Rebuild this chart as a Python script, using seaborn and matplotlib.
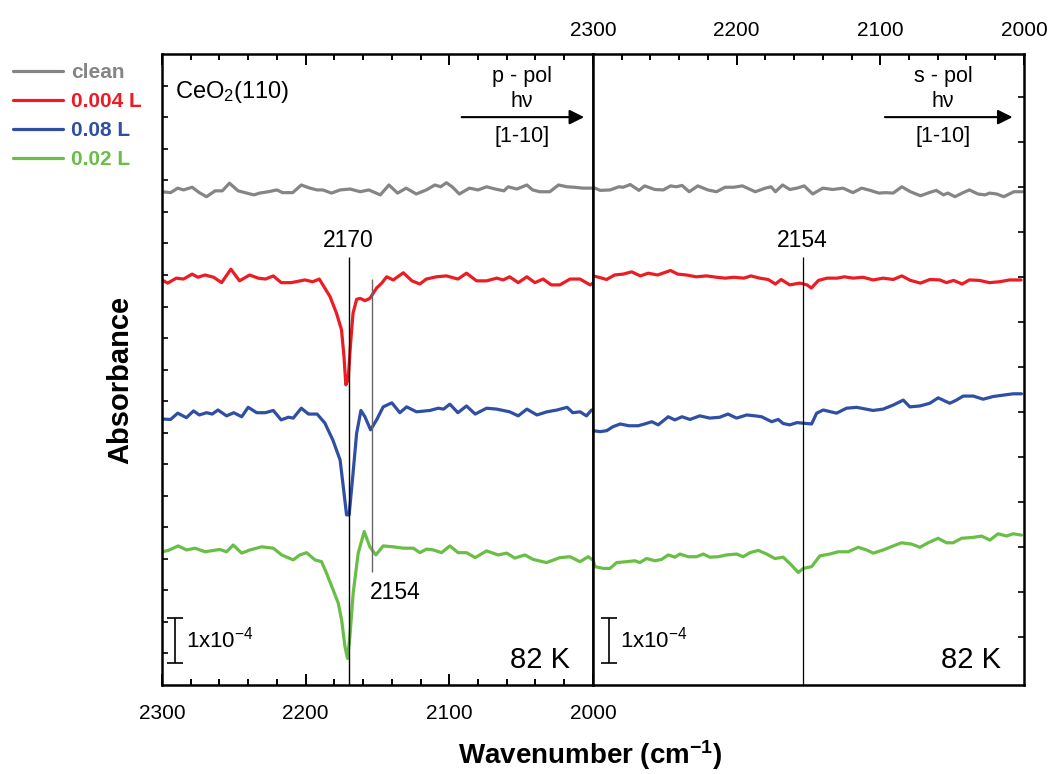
import numpy as np
import pandas as pd
import matplotlib
matplotlib.use("Agg")
import matplotlib.pyplot as plt
import seaborn as sns
from matplotlib import font_manager
from matplotlib.ticker import MultipleLocator, FixedLocator

sns.set_style("ticks")
plt.rcParams['font.family'] = ['Liberation Sans', 'DejaVu Sans']
plt.rcParams['text.color'] = 'black'
plt.rcParams['xtick.color'] = 'black'
plt.rcParams['ytick.color'] = 'black'
plt.rcParams['mathtext.fontset'] = 'custom'
plt.rcParams['mathtext.rm'] = 'Liberation Sans'
plt.rcParams['mathtext.it'] = 'Liberation Sans:italic'
plt.rcParams['mathtext.bf'] = 'Liberation Sans:bold'

names = {f.name for f in font_manager.fontManager.ttflist}
narrow = 'Liberation Sans Narrow' if 'Liberation Sans Narrow' in names else 'Liberation Sans'

# ---- data: absorbance in units of 1e-4, relative to each trace's baseline ----
labels = ["clean", "0.004 L", "0.08 L", "0.02 L"]
colors = ["#858585", "#ed1c24", "#2e4fa3", "#69be45"]
offsets = [11.0, 9.0, 6.0, 3.0]

# p-pol panel
wn_clean_p = [2300, 2294, 2289, 2285, 2279, 2274, 2269, 2263, 2258, 2253, 2247, 2241, 2236, 2232, 2226, 2220,
              2216, 2209, 2203, 2197, 2192, 2188, 2182, 2176, 2169, 2162, 2156, 2148, 2142, 2136, 2130, 2123,
              2116, 2110, 2106, 2102, 2098, 2093, 2086, 2080, 2074, 2068, 2062, 2059, 2053, 2046, 2042, 2037,
              2030, 2024, 2018, 2013, 2007, 2001]
ab_clean_p = [-0.04, -0.06, 0.04, 0, 0.06, -0.06, -0.15, -0.02, -0.02, 0.15, -0.02, -0.07, -0.11, -0.07, -0.04, 0,
              -0.06, -0.06, 0.11, 0.04, 0, 0, -0.07, 0, 0.02, -0.04, 0, -0.11, 0.11, -0.07, 0.04, -0.09,
              0, 0.11, 0.07, 0.16, 0.07, -0.09, 0.04, 0, 0.07, 0.02, -0.02, 0.07, 0.02, 0.11, 0, -0.04,
              -0.04, 0.11, 0.07, 0.06, 0.04, 0.04]

wn_004_p = [2300, 2296, 2290, 2285, 2279, 2275, 2270, 2264, 2258.5, 2252, 2246, 2239, 2233, 2228, 2222.5, 2217,
            2210, 2200.5, 2195, 2190.5, 2188, 2183, 2178.5, 2175, 2173.3, 2172, 2170.4, 2168.7, 2167, 2164.5,
            2162, 2158.7, 2155.3, 2150.6, 2147, 2143.6, 2139, 2132, 2126, 2120.5, 2116, 2109, 2102, 2094, 2088,
            2081, 2074, 2067, 2062.5, 2058, 2052, 2046, 2040.4, 2034.7, 2029, 2023, 2016, 2009, 2002, 2000]
ab_004_p = [0, -0.07, 0.04, 0.02, 0.13, 0.06, 0.11, 0.06, -0.06, 0.24, -0.02, 0.11, 0.04, 0.02, 0.09, -0.06,
            -0.06, 0, -0.04, 0.02, -0.11, -0.37, -0.74, -1.11, -1.70, -2.33, -2.22, -1.41, -0.74, -0.43,
            -0.41, -0.46, -0.41, -0.18, -0.07, 0.07, 0, 0.16, -0.02, -0.09, 0.02, 0.07, 0.09, 0.02, 0.15,
            -0.02, -0.02, 0.04, 0, 0.07, -0.06, 0.07, -0.06, 0.02, -0.11, -0.11, 0.02, 0.02, -0.11, -0.07]

wn_008_p = [2300, 2294, 2289, 2283, 2278, 2274, 2269, 2265, 2261, 2255, 2250, 2244.5, 2240, 2234, 2228, 2222.5,
            2217, 2212, 2208.6, 2203, 2198, 2192, 2186.6, 2181, 2176, 2173.8, 2171.5, 2169.7, 2167, 2164.5,
            2161.5, 2158.7, 2154.8, 2150.6, 2146, 2140, 2134.4, 2129.7, 2122.8, 2113.5, 2107.7, 2104, 2099.6,
            2094, 2088, 2082, 2074, 2067, 2058, 2052, 2046, 2039, 2032, 2025, 2018, 2014, 2009, 2004.5, 2001]
ab_008_p = [-0.09, -0.10, 0.04, -0.06, 0.09, 0, 0.05, 0.02, 0.11, -0.02, 0.05, -0.04, 0.17, 0.05, 0.05, 0.10,
            -0.11, -0.05, -0.07, 0.15, 0.02, 0.02, -0.18, -0.56, -1.0, -1.59, -2.22, -2.22, -1.30, -0.41,
            0.10, -0.04, -0.33, -0.11, 0.18, 0.27, 0.05, 0.18, 0.07, 0.10, 0.15, 0.13, 0.24,
            0.05, 0.20, 0.02, 0.15, 0.13, 0.07, -0.02, 0.13, 0, 0.07, 0.11, 0.17, 0.05, 0.07, -0.02, 0.11]

wn_002_p = [2300, 2295.6, 2288.7, 2282.8, 2277, 2270, 2264.3, 2259.6, 2255, 2250.4, 2244.5, 2238.8, 2230.6,
            2222.5, 2216.7, 2208.6, 2204, 2199.3, 2193.5, 2188.9, 2185.4, 2180.8, 2177.3, 2174.9, 2172.6,
            2170.8, 2169.2, 2166.9, 2163.4, 2159.2, 2155.3, 2151.1, 2146, 2139, 2132, 2125, 2120.5, 2115.8,
            2111, 2105.4, 2099.6, 2093.8, 2088, 2082, 2074, 2066, 2060, 2054.4, 2047.4, 2041.6, 2032.3, 2023,
            2016, 2009, 2003.3, 2000.3]
ab_002_p = [-0.04, -0.01, 0.09, 0, 0.04, -0.04, -0.01, 0.01, -0.04, 0.11, -0.07, 0, 0.07,
            0.04, -0.11, -0.22, -0.11, -0.06, -0.22, -0.26, -0.52, -0.89, -1.18, -1.56, -2.15,
            -2.41, -1.93, -0.96, -0.07, 0.41, 0.07, -0.11, 0.09, 0.07, 0.04, 0.04, -0.06, 0.02,
            0, -0.06, 0.09, -0.06, -0.06, -0.17, -0.02, -0.11, -0.07, -0.18, -0.11, -0.21, -0.28, -0.17,
            -0.15, -0.26, -0.15, -0.22]

# s-pol panel
wn_clean_s = [2300, 2295, 2288, 2282, 2279, 2274, 2268, 2264, 2257, 2251, 2246, 2242, 2238, 2233, 2227, 2220,
              2214, 2208, 2202, 2196, 2187, 2180, 2176, 2173, 2168, 2163, 2158, 2153, 2147, 2140, 2133, 2126,
              2119, 2113, 2107, 2101, 2096, 2091, 2085, 2079, 2072, 2066, 2061, 2056, 2053, 2048, 2043, 2038,
              2032, 2027, 2024, 2019, 2014, 2007, 2001]
ab_clean_s = [0.06, -0.01, 0, 0.07, 0.06, 0.12, -0.01, 0.09, 0.01, 0, 0.09, 0.07, 0.10, -0.04, 0.09, 0,
              -0.04, 0.06, 0.06, 0.09, -0.04, 0.04, 0.07, -0.04, 0.11, 0.01, 0.04, 0.09, -0.09, 0.04, 0.01, 0.04,
              -0.06, 0.04, -0.01, -0.07, -0.06, -0.07, 0.07, -0.04, -0.13, -0.06, -0.01, -0.11, -0.07, -0.15,
              -0.07, 0, -0.09, -0.11, -0.07, -0.09, -0.15, -0.04, -0.04]

wn_004_s = [2300, 2296, 2290.5, 2285, 2279, 2273, 2267, 2261.5, 2255, 2246, 2241, 2235, 2228, 2221, 2214, 2208,
            2202, 2195, 2190, 2184, 2178, 2173, 2169, 2163, 2156, 2151, 2148, 2143, 2137, 2130, 2125, 2119,
            2112, 2105, 2098, 2091, 2085, 2079, 2072, 2065.5, 2058.5, 2054, 2049, 2043, 2038, 2031, 2024,
            2017, 2010, 2002]
ab_004_s = [0.09, 0.06, 0.01, 0.11, 0.13, 0.18, 0.09, 0.15, 0.11, 0.21, 0.13, 0.11, 0.07, 0.09, 0.06, 0.04,
            0.06, 0.04, 0.09, 0.04, 0.01, -0.09, 0.01, -0.11, -0.07, -0.11, -0.18, -0.01, 0.04, 0.04, 0.07, 0.04,
            0.06, 0, 0.04, 0.01, 0.09, -0.01, -0.07, 0.01, 0, -0.06, -0.01, -0.09, 0, -0.01, -0.06,
            -0.04, 0, 0]

wn_008_s = [2300, 2295, 2290.5, 2286, 2281, 2275, 2268.5, 2264, 2259, 2254.6, 2247.6, 2243, 2238, 2232.5,
            2225.6, 2218.6, 2211.7, 2206, 2200, 2193, 2187, 2182.6, 2175.6, 2171, 2167.6, 2163, 2158, 2151.3,
            2147.8, 2144.3, 2139.7, 2130.4, 2123.5, 2116.5, 2105, 2098, 2091, 2084, 2079.4, 2072.4, 2065.5,
            2059.7, 2051.6, 2047, 2042.3, 2035.3, 2028.4, 2021.4, 2014.5, 2007.5, 2001.7]
ab_008_s = [-0.35, -0.37, -0.35, -0.26, -0.20, -0.24, -0.24, -0.20, -0.15, -0.22, -0.04, -0.11, -0.04, -0.10,
            -0.02, -0.07, -0.05, 0.02, -0.07, 0, -0.02, -0.04, -0.15, -0.10, -0.19, -0.22, -0.17, -0.19,
            -0.20, 0.04, 0.11, 0.04, 0.15, 0.17, 0.10, 0.13, 0.22, 0.33, 0.18, 0.20, 0.26,
            0.38, 0.26, 0.33, 0.42, 0.42, 0.35, 0.41, 0.44, 0.47, 0.47]

wn_002_s = [2300, 2298.6, 2292.8, 2288.2, 2283.5, 2276.6, 2270.8, 2267.3, 2262.7, 2256.9, 2252.2, 2247.6,
            2242.9, 2239.5, 2233.7, 2227.9, 2223.2, 2218.6, 2212.8, 2207, 2200, 2195.4, 2190.7, 2184.9, 2179.1,
            2173.3, 2167.6, 2162.9, 2157.1, 2153.6, 2147.8, 2142, 2135.1, 2129.3, 2122.3, 2115.4, 2109.5,
            2104.9, 2098, 2091, 2085.2, 2078.2, 2072.4, 2066.7, 2059.7, 2053.9, 2049.3, 2043.4, 2035.3, 2029.5,
            2023.7, 2018, 2012.1, 2007.5, 2001.7]
ab_002_s = [-0.21, -0.37, -0.41, -0.41, -0.28, -0.26, -0.24, -0.28, -0.19, -0.24, -0.21, -0.11,
            -0.16, -0.09, -0.15, -0.15, -0.09, -0.16, -0.15, -0.11, -0.09, -0.15, -0.06, -0.01, -0.09,
            -0.19, -0.16, -0.30, -0.50, -0.41, -0.37, -0.13, -0.09, -0.04, -0.04, 0.06, 0,
            -0.07, 0, 0.09, 0.16, 0.13, 0.06, 0.16, 0.26, 0.16, 0.16, 0.26, 0.28, 0.31,
            0.22, 0.36, 0.31, 0.36, 0.33]


def stack(wns, vals):
    parts = []
    for lab, off, w, v in zip(labels, offsets, wns, vals):
        parts.append(pd.DataFrame({"wn": w, "absorb": np.array(v) + off, "dose": lab}))
    return pd.concat(parts, ignore_index=True)


df_p = stack([wn_clean_p, wn_004_p, wn_008_p, wn_002_p], [ab_clean_p, ab_004_p, ab_008_p, ab_002_p])
df_s = stack([wn_clean_s, wn_004_s, wn_008_s, wn_002_s], [ab_clean_s, ab_004_s, ab_008_s, ab_002_s])

fig = plt.figure(figsize=(10.53, 7.74), dpi=100)
ax1 = fig.add_axes([0.1538, 0.1150, 0.4093, 0.8152])
ax2 = fig.add_axes([0.5631, 0.1150, 0.4093, 0.8152])

sns.lineplot(data=df_p, x="wn", y="absorb", hue="dose", hue_order=labels, palette=colors,
             estimator=None, sort=False, lw=2.3, ax=ax1, legend=True)
sns.lineplot(data=df_s, x="wn", y="absorb", hue="dose", hue_order=labels, palette=colors,
             estimator=None, sort=False, lw=2.3, ax=ax2, legend=False)

for ax in (ax1, ax2):
    ax.set_xlim(2300, 2000)
    ax.set_ylim(0, 14.02)
    ax.set_xlabel("")
    ax.set_ylabel("")
    ax.xaxis.set_major_locator(MultipleLocator(100))
    ax.xaxis.set_minor_locator(MultipleLocator(20))
    for s in ax.spines.values():
        s.set_visible(True)
        s.set_linewidth(1.8)
        s.set_color("black")

ax1.tick_params(axis="x", which="both", direction="in", top=True, bottom=True,
                labeltop=False, labelbottom=True, width=1.4, pad=13.5, labelsize=15)
ax1.tick_params(axis="x", which="major", length=8)
ax1.tick_params(axis="x", which="minor", length=4)
for t in ax1.get_xticklabels():
    t.set_fontfamily(narrow)
ax1.yaxis.set_major_locator(FixedLocator(np.arange(0.71, 14.0, 0.7)))
ax1.set_yticklabels([])
ax1.tick_params(axis="y", direction="in", left=True, right=False, length=4, width=1.2)

ax2.tick_params(axis="x", which="both", direction="in", top=True, bottom=False,
                labeltop=True, labelbottom=False, width=1.4, pad=10, labelsize=15)
ax2.tick_params(axis="x", which="major", length=8)
ax2.tick_params(axis="x", which="minor", length=4)
ax2.yaxis.set_major_locator(FixedLocator(np.arange(1.07, 14.0, 1.0)))
ax2.set_yticklabels([])
ax2.tick_params(axis="y", direction="in", left=False, right=True, length=4, width=1.2)

# legend to the left of the plot
sns.move_legend(ax1, "upper left", bbox_to_anchor=(13 / 1053, 1 - 63 / 774),
                bbox_transform=fig.transFigure, frameon=False, title=None,
                handlelength=2.4, handletextpad=0.4, labelspacing=0.48,
                borderpad=0, borderaxespad=0, prop={"size": 15, "weight": "bold"})
leg = ax1.get_legend()
for t, c in zip(leg.get_texts(), colors):
    t.set_color(c)
for h in leg.get_lines():
    h.set_linewidth(2.3)

# peak markers
ax1.vlines(2170, 0, 9.51, color="black", lw=1.0)
ax1.vlines(2154, 2.51, 9.02, color="#666666", lw=1.0)
ax2.vlines(2154, 0, 9.51, color="black", lw=0.9)
ax1.text(2170, 9.62, "2170", ha="center", va="bottom", fontsize=16.5)
ax1.text(2155, 2.3, "2154", ha="left", va="top", fontsize=16.5)
ax2.text(2154, 9.62, "2154", ha="center", va="bottom", fontsize=16.5)

# polarisation annotations
for ax, pol, xc, xa in ((ax1, "p - pol", 0.835, (0.689, 0.986)), (ax2, "s - pol", 0.812, (0.671, 0.98))):
    ax.text(xc, 0.965, pol, transform=ax.transAxes, ha="center", va="center", fontsize=15.5)
    ax.text(xc, 0.924, "hν", transform=ax.transAxes, ha="center", va="center", fontsize=15.5)
    ax.text(xc, 0.87, "[1-10]", transform=ax.transAxes, ha="center", va="center", fontsize=15.5)
    ax.annotate("", xy=(xa[1], 0.9), xytext=(xa[0], 0.9), xycoords="axes fraction",
                arrowprops=dict(arrowstyle="-|>", color="black", lw=1.5, mutation_scale=22))
    ax.text(0.947, 0.04, "82 K", transform=ax.transAxes, ha="right", va="center", fontsize=21)

ax1.text(0.03, 0.94, "CeO$_2$(110)", transform=ax1.transAxes, ha="left", va="center", fontsize=17)

# scale bars
ax1.errorbar([2291], [0.99], yerr=[0.5], color="black", capsize=6, lw=1.2, capthick=1.2)
ax2.errorbar([2288.9], [0.99], yerr=[0.5], color="black", capsize=6, lw=1.2, capthick=1.2)
ax1.text(2283.3, 1.0, "1x10$^{-4}$", ha="left", va="center", fontsize=16)
ax2.text(2281.2, 1.0, "1x10$^{-4}$", ha="left", va="center", fontsize=16)

fig.text(0.114, 0.509, "Absorbance", rotation=90, ha="center", va="center",
         fontsize=21, fontweight="bold")
fig.text(0.560, 0.024, r"Wavenumber (cm$^{\mathbf{-1}}$)", ha="center", va="center",
         fontsize=20, fontweight="bold", family=narrow)

fig.savefig("out.png", dpi=100)
